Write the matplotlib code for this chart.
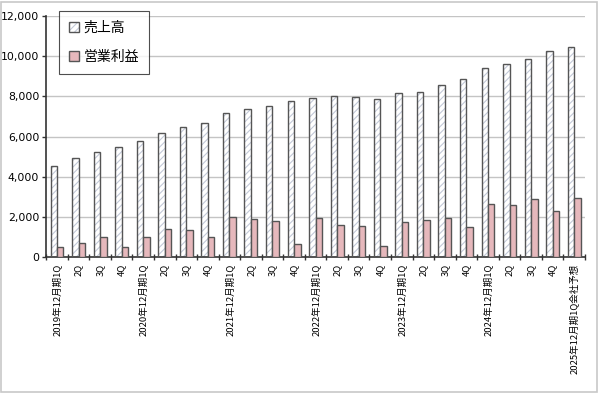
import numpy as np
import matplotlib
matplotlib.use("Agg")
import matplotlib.pyplot as plt
from matplotlib.patches import Patch, Rectangle
from matplotlib.ticker import FuncFormatter

plt.rcParams['font.family'] = ['Noto Sans CJK JP', 'DejaVu Sans']
plt.rcParams['hatch.linewidth'] = 0.8

quarters = ['2019年12月期1Q', '2Q', '3Q', '4Q',
            '2020年12月期1Q', '2Q', '3Q', '4Q',
            '2021年12月期1Q', '2Q', '3Q', '4Q',
            '2022年12月期1Q', '2Q', '3Q', '4Q',
            '2023年12月期1Q', '2Q', '3Q', '4Q',
            '2024年12月期1Q', '2Q', '3Q', '4Q',
            '2025年12月期1Q会社予想']
sales = [4530, 4930, 5250, 5470, 5760, 6170, 6450, 6670, 7190, 7370, 7520, 7760,
         7900, 8000, 7950, 7880, 8180, 8200, 8570, 8860, 9400, 9600, 9860, 10270, 10440]
op_profit = [470, 700, 1000, 470, 970, 1370, 1330, 970, 1970, 1880, 1770, 630,
             1960, 1580, 1515, 530, 1715, 1830, 1915, 1500, 2630, 2600, 2900, 2300, 2930]
series_names = ['売上高', '営業利益']

edge = '#555555'
hatch_col = '#c2c9d8'
pink = '#e6b8bc'

fig = plt.figure(figsize=(6, 3.94), dpi=100)
ax = fig.add_axes([0.077, 0.348, 0.898, 0.611])

x = np.arange(len(quarters))
w = 0.3
# hatched white bars (hatch drawn light, outline drawn dark on top)
ax.bar(x - w / 2, sales, w, color='white', edgecolor=hatch_col, hatch='/////', linewidth=0, zorder=2)
ax.bar(x - w / 2, sales, w, color='none', edgecolor=edge, linewidth=1, zorder=3)
ax.bar(x + w / 2, op_profit, w, color=pink, edgecolor=edge, linewidth=1, zorder=3)

ax.set_xlim(-0.5, len(quarters) - 0.5)
ax.set_ylim(0, 12000)
ax.set_yticks(np.arange(0, 12001, 2000))
ax.yaxis.set_major_formatter(FuncFormatter(lambda v, p: f'{int(v):,}'))
ax.tick_params(axis='y', labelsize=7.8, length=3, width=1, color='#333333', pad=2)
for t in ax.get_yticklabels():
    t.set_fontfamily('DejaVu Sans')
ax.grid(axis='y', color='#c4c4c4', linewidth=1, zorder=0)
ax.set_axisbelow(True)

ax.set_xticks(x)
ax.set_xticklabels(quarters, rotation=90, fontsize=6.8, va='top', ha='center')
ax.set_xticks(np.arange(-0.5, len(quarters), 1), minor=True)
ax.tick_params(axis='x', which='major', length=0, pad=5)
ax.tick_params(axis='x', which='minor', length=4, width=1, color='#333333', direction='inout')

for s in ['top', 'right']:
    ax.spines[s].set_visible(False)
ax.spines['left'].set_color('#333333')
ax.spines['bottom'].set_color('#333333')
ax.spines['left'].set_linewidth(1.2)
ax.spines['bottom'].set_linewidth(1.2)

h1 = (Patch(facecolor='white', edgecolor=hatch_col, hatch='/////', linewidth=0),
      Patch(facecolor='none', edgecolor=edge, linewidth=1))
h2 = Patch(facecolor=pink, edgecolor=edge, linewidth=1)
leg = ax.legend([h1, h2], series_names, loc='upper left', bbox_to_anchor=(0.024, 1.022),
                fontsize=10, frameon=True, fancybox=False, labelspacing=1.1,
                handlelength=0.7, handleheight=0.7, handletextpad=0.35,
                borderpad=0.7, borderaxespad=0)
leg.get_frame().set_edgecolor('#222222')
leg.get_frame().set_linewidth(0.8)

fig.patches.append(Rectangle((0.002, 0.004), 0.993, 0.992, transform=fig.transFigure,
                             fill=False, edgecolor='#c8c8c8', linewidth=1.2))

fig.savefig('out.png', dpi=100)
